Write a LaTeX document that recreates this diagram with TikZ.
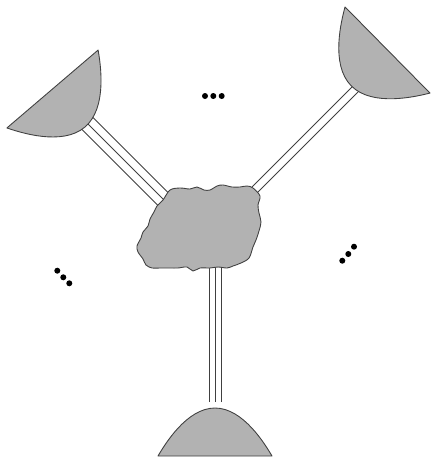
\documentclass[tikz,border=0pt]{standalone}
\usepackage{tikz}
\usetikzlibrary{calc}

\begin{document}
\begin{tikzpicture}[
  x=0.02cm, y=-0.02cm,
  shell/.style={draw=black!75, line width=0.5pt, fill=black!30, line join=round},
  leg/.style={draw=black!75, line width=0.5pt},
  dot/.style={fill=black}
]
\useasboundingbox (0,0) rectangle (430,460);

% anchor points of the three legs
\coordinate (footL) at (75,111);
\coordinate (hipL) at (185,221);
\coordinate (footR) at (365,79.5);
\coordinate (hipR) at (235,209.5);
\coordinate (footB) at (215.5,402);
\coordinate (hipB) at (215.5,255);

% legs
\foreach \s in {-1,0,1}
  \draw[leg] ($(footL)+(\s*5.7,-\s*5.7)$) -- ($(hipL)+(\s*5.7,-\s*5.7)$);
\foreach \s in {-1,1}
  \draw[leg] ($(footR)+(\s*2.75,\s*2.75)$) -- ($(hipR)+(\s*2.75,\s*2.75)$);
\foreach \s in {-1,0,1}
  \draw[leg] ($(footB)+(\s*6.2,0)$) -- ($(hipB)+(\s*6.2,0)$);

% dishes
\begin{scope}[shift={(52.5,89)}, rotate=-139.5]
  \draw[shell] (-60,0) parabola bend (0,-50) (60,0) -- cycle;
\end{scope}
\begin{scope}[shift={(387.5,50)}, rotate=134.6]
  \draw[shell] (-60.5,0) parabola bend (0,-51) (60.5,0) -- cycle;
\end{scope}
\draw[shell] (158,456) parabola bend (215,408) (272,456) -- cycle;

% the core
\draw[shell] plot[smooth cycle, tension=0.55] coordinates {
  (163,200) (170,190) (180,188) (190,189) (197,187) (204,190) (210,190)
  (217,186) (223,185) (232,187) (240,187) (247,186) (253,188) (260,196)
  (258,205) (259,213) (261,222) (259,231) (256,240) (253,247) (249,258)
  (241,263) (233,266) (227,268) (218,267) (210,268) (200,268) (193,271)
  (187,267) (178,268) (170,268) (160,268) (152,268) (146,265) (143,259)
  (138,252) (137,246) (141,238) (143,232) (148,226) (150,219) (154,212)
  (157,206)};

% dots
\foreach \p in {(205,96),(213.3,96),(221.7,96),
                (57.3,270.7),(63.3,277.3),(69.3,283.3),
                (354,246.7),(348.3,254),(342.3,260.7)}
  \fill[dot] \p circle[radius=3];
\end{tikzpicture}
\end{document}
